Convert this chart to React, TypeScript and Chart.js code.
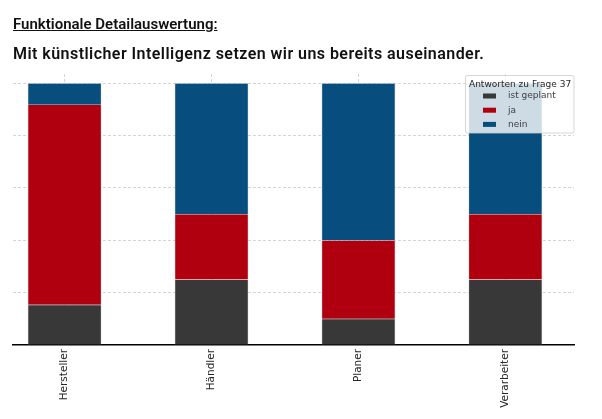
import React, { useEffect, useRef } from "react";
import { Chart, registerables } from "chart.js";

Chart.register(...registerables);

const heading = "Funktionale Detailauswertung:";
const subheading = "Mit künstlicher Intelligenz setzen wir uns bereits auseinander.";
const categories = ["Hersteller", "Händler", "Planer", "Verarbeiter"];
const seriesLabels = ["ist geplant", "ja", "nein"];
const istGeplant = [15.4, 25, 10, 25];
const ja = [76.4, 25, 30, 25];
const nein = [8.2, 50, 60, 50];
const yTicks = [0, 20, 40, 60, 80, 100];
const legendTitle = "Antworten zu Frage 37";

const colors = ["#383838", "#b0000f", "#074d7e"];

const legendPlugin = {
  id: "customLegend",
  afterDraw(chart: any) {
    const ctx = chart.ctx;
    const x = 465.5, y = 75.5, w = 108.5, h = 57.5;
    ctx.save();
    ctx.beginPath();
    ctx.roundRect(x, y, w, h, 2);
    ctx.fillStyle = "rgba(255,255,255,0.8)";
    ctx.fill();
    ctx.strokeStyle = "rgba(204,204,204,0.8)";
    ctx.lineWidth = 1;
    ctx.stroke();
    ctx.font = '9px "DejaVu Sans"';
    ctx.textBaseline = "middle";
    ctx.textAlign = "left";
    ctx.fillStyle = "#262626";
    ctx.fillText(legendTitle, 469, 84.5);
    chart.data.datasets.forEach((ds: any, i: number) => {
      const cy = 96 + i * 14.2;
      ctx.fillStyle = ds.backgroundColor;
      ctx.fillRect(483, cy - 2.5, 13, 5);
      ctx.fillStyle = "#404040";
      ctx.fillText(ds.label, 508, cy);
    });
    ctx.restore();
  },
};

export default function App() {
  const ref = useRef<HTMLCanvasElement | null>(null);
  useEffect(() => {
    if (!ref.current) return;
    const series = [istGeplant, ja, nein];
    const chart = new Chart(ref.current, {
      type: "bar",
      data: {
        datasets: series.map((vals, i) => ({
          label: seriesLabels[i],
          data: vals.map((v, j) => ({ x: j, y: v })),
          backgroundColor: colors[i],
          borderColor: "rgba(190,190,190,0.45)",
          borderWidth: 0.8,
          barThickness: 73.5,
        })),
      },
      options: {
        responsive: false,
        animation: false,
        layout: { padding: { left: 13, right: 28, top: 74, bottom: 0 } },
        plugins: { legend: { display: false }, tooltip: { enabled: false } },
        scales: {
          x: {
            type: "linear",
            stacked: true,
            min: -0.351,
            max: 3.467,
            offset: false,
            z: 1,
            afterBuildTicks: (scale: any) => {
              scale.ticks = categories.map((_, i) => ({ value: i }));
            },
            afterFit: (scale: any) => {
              scale.height = 74;
            },
            ticks: {
              autoSkip: false,
              minRotation: 90,
              maxRotation: 90,
              padding: 4,
              color: "#262626",
              font: { family: "DejaVu Sans", size: 10.5 },
              callback: (v: any) => categories[v] ?? "",
            },
            grid: {
              offset: false,
              color: "rgba(176,176,176,0.55)",
              lineWidth: 1,
              drawTicks: false,
            },
            border: { display: true, color: "#000", width: 1.5, dash: [3, 2] },
          },
          y: {
            stacked: true,
            min: 0,
            max: 103.5,
            z: 1,
            afterBuildTicks: (scale: any) => {
              scale.ticks = yTicks.map((v) => ({ value: v }));
            },
            afterFit: (scale: any) => {
              scale.width = 0;
            },
            ticks: { display: false },
            grid: {
              color: (c: any) => (c.tick && c.tick.value === 0 ? "rgba(0,0,0,0)" : "rgba(176,176,176,0.55)"),
              lineWidth: 1,
              drawTicks: false,
            },
            border: { display: false, dash: [3, 2] },
          },
        },
      },
      plugins: [legendPlugin],
    } as any);
    return () => chart.destroy();
  }, []);

  return (
    <div style={{ position: "fixed", left: 0, top: 0, width: 602, height: 419, background: "#fff", overflow: "hidden" }}>
      <canvas ref={ref} width={602} height={419} style={{ position: "absolute", left: 0, top: 0, width: 602, height: 419 }} />
      <div
        style={{
          position: "absolute",
          left: 13,
          top: 16.5,
          font: '600 15px Roboto, "Noto Sans", sans-serif',
          lineHeight: "15px",
          color: "#111",
          textDecoration: "underline",
          whiteSpace: "nowrap",
        }}
      >
        {heading}
      </div>
      <div
        style={{
          position: "absolute",
          left: 13,
          top: 45.5,
          font: '600 16px Roboto, "Noto Sans", sans-serif',
          lineHeight: "16px",
          letterSpacing: "0.45px",
          color: "#111",
          whiteSpace: "nowrap",
        }}
      >
        {subheading}
      </div>
    </div>
  );
}
